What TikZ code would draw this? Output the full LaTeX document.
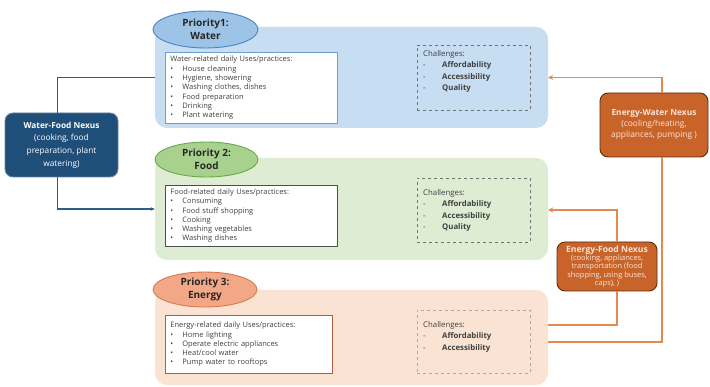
\documentclass[tikz,border=0pt]{standalone}
\usepackage{fontspec}
\setmainfont{Open Sans}
\usetikzlibrary{shapes.geometric,arrows.meta}
\definecolor{waterbg}{HTML}{C7DDF1}
\definecolor{waterell}{HTML}{9DC3E6}
\definecolor{waterrim}{HTML}{4A86C5}
\definecolor{foodbg}{HTML}{DEECD4}
\definecolor{foodell}{HTML}{A9D18E}
\definecolor{foodrim}{HTML}{6AA84F}
\definecolor{energybg}{HTML}{FBE3D3}
\definecolor{energyell}{HTML}{F2A886}
\definecolor{energyrim}{HTML}{D9774F}
\definecolor{nexusorange}{HTML}{C8642A}
\definecolor{nexusrim}{HTML}{5A2D10}
\definecolor{nexustext}{HTML}{FCE4D6}
\definecolor{nexusblue}{HTML}{1F4E79}
\definecolor{linkblue}{HTML}{2E5C8A}
\definecolor{linkorange}{HTML}{E58A4E}
\definecolor{textgray}{HTML}{404040}
\newcommand{\usesitem}[1]{\makebox[12pt][l]{\textbullet}#1}
\newcommand{\chitem}[1]{\makebox[19pt][l]{-}#1}

\begin{document}
\begin{tikzpicture}[x=1pt,y=-1pt,
  panel/.style={rounded corners=12pt,minimum width=393pt,inner sep=0pt},
  prio/.style={ellipse,line width=0.9pt,inner sep=0pt,align=center,
    font=\bfseries\fontsize{10}{13}\selectfont,text=black!85},
  usesbox/.style={anchor=north west,fill=white,line width=0.8pt,
    text width=162pt,inner xsep=5pt,align=left,
    font=\fontsize{7.5}{9.3}\selectfont,text=textgray},
  chbox/.style={anchor=north west,draw=black!55,dashed,line width=0.6pt,
    minimum width=113pt,inner sep=0pt},
  chtext/.style={anchor=north west,inner sep=0pt,align=left,
    font=\fontsize{7.8}{11.5}\selectfont,text=black!75},
  nexus/.style={rounded corners=8pt,line width=0.9pt,inner sep=2pt,
    align=center},
  bluelink/.style={linkblue,line width=1.1pt},
  orangelink/.style={linkorange,line width=1.5pt}]
  \useasboundingbox (0,0) rectangle (710,387);
  \fill[white] (0,0) rectangle (710,387);

  % priority panels
  \node[panel,fill=waterbg,minimum height=101pt] (water) at (351.5,77.5) {};
  \node[panel,fill=foodbg,minimum height=102pt] (food) at (351.5,209) {};
  \node[panel,fill=energybg,minimum height=95pt] (energy) at (351.5,337.5) {};

  \node[prio,fill=waterell,draw=waterrim,minimum width=105pt,
    minimum height=37pt] (waterprio) at (205.5,29.5) {Priority1:\\Water};
  \node[prio,fill=foodell,draw=foodrim,minimum width=103pt,
    minimum height=35pt] (foodprio) at (206.5,159.5) {Priority 2:\\Food};
  \node[prio,fill=energyell,draw=energyrim,minimum width=104pt,
    minimum height=35pt] (energyprio) at (205,289.5) {Priority 3:\\Energy};

  % daily uses
  \node[usesbox,draw=waterrim!80,minimum height=71pt] (wateruses) at (165,52)
    {Water-related daily Uses/practices:\\
     \usesitem{House cleaning}\\
     \usesitem{Hygiene, showering}\\
     \usesitem{Washing clothes, dishes}\\
     \usesitem{Food preparation}\\
     \usesitem{Drinking}\\
     \usesitem{Plant watering}};
  \node[usesbox,draw=black!70,minimum height=58pt] (fooduses) at (165,185)
    {Food-related daily Uses/practices:\\
     \usesitem{Consuming}\\
     \usesitem{Food stuff shopping}\\
     \usesitem{Cooking}\\
     \usesitem{Washing vegetables}\\
     \usesitem{Washing dishes}};
  \node[usesbox,draw=energyrim!80!black,text width=157pt,minimum height=58pt]
    (energyuses) at (165,315)
    {Energy-related daily Uses/practices:\\
     \usesitem{Home lighting}\\
     \usesitem{Operate electric appliances}\\
     \usesitem{Heat/cool water}\\
     \usesitem{Pump water to rooftops}};

  % challenges
  \node[chbox,minimum height=65pt] (waterch) at (417,45) {};
  \node[chtext] (waterchtext) at ([xshift=6pt,yshift=-5pt]waterch.north west)
    {Challenges:\\ \chitem{\textbf{Affordability}}\\
     \chitem{\textbf{Accessibility}}\\ \chitem{\textbf{Quality}}};
  \node[chbox,minimum height=64pt] (foodch) at (417,178) {};
  \node[chtext] (foodchtext) at ([xshift=6pt,yshift=-11pt]foodch.north west)
    {Challenges:\\ \chitem{\textbf{Affordability}}\\
     \chitem{\textbf{Accessibility}}\\ \chitem{\textbf{Quality}}};
  \node[chbox,draw=energyrim!45!gray!70,minimum height=63pt] (energych)
    at (417,310) {};
  \node[chtext] (energychtext) at ([xshift=6pt,yshift=-11pt]energych.north west)
    {Challenges:\\ \chitem{\textbf{Affordability}}\\
     \chitem{\textbf{Accessibility}}};

  % nexus boxes
  \node[nexus,fill=nexusblue,draw=nexusblue!70!white,text=white,
    minimum width=113pt,minimum height=64pt,
    font=\fontsize{8.3}{12.7}\selectfont] (wfnexus) at (61.5,145)
    {\textbf{Water-Food Nexus}\\(cooking, food\\preparation, plant\\watering)};
  \node[nexus,fill=nexusorange,draw=nexusrim,text=nexustext,
    minimum width=108pt,minimum height=64pt,
    font=\fontsize{8.4}{11}\selectfont] (ewnexus) at (654,125)
    {\textbf{Energy-Water Nexus}\\(cooling/heating,\\appliances, pumping )};
  \node[nexus,fill=nexusorange,draw=nexusrim,text=nexustext,
    minimum width=100pt,minimum height=49pt,inner sep=1pt,
    font=\fontsize{7.5}{8.4}\selectfont] (efnexus) at (607,266.5)
    {{\fontsize{8.6}{8.4}\selectfont\textbf{Energy-Food Nexus}}\\
     (cooking, appliances,\\transportation (food\\shopping, using buses,\\
     caps), )};

  % links
  \draw[bluelink] ([xshift=-4pt]wfnexus.north) |- (water.west);
  \draw[bluelink,-{Stealth[length=4pt,width=3.5pt]}]
    ([xshift=-4pt]wfnexus.south) |- (food.west);
  \draw[orangelink,-{Stealth[length=5pt,width=5pt]}]
    ([xshift=8pt]ewnexus.north) |- (water.east);
  \draw[orangelink,-{Stealth[length=5pt,width=5pt]}]
    ([xshift=10pt]efnexus.north) |- ([yshift=-1pt]food.east);
  \draw[orangelink] ([yshift=12.5pt]energy.east) -| ([xshift=10pt]efnexus.south);
  \draw[orangelink] ([yshift=-4.5pt]energy.east) -| ([xshift=8pt]ewnexus.south);
\end{tikzpicture}
\end{document}
